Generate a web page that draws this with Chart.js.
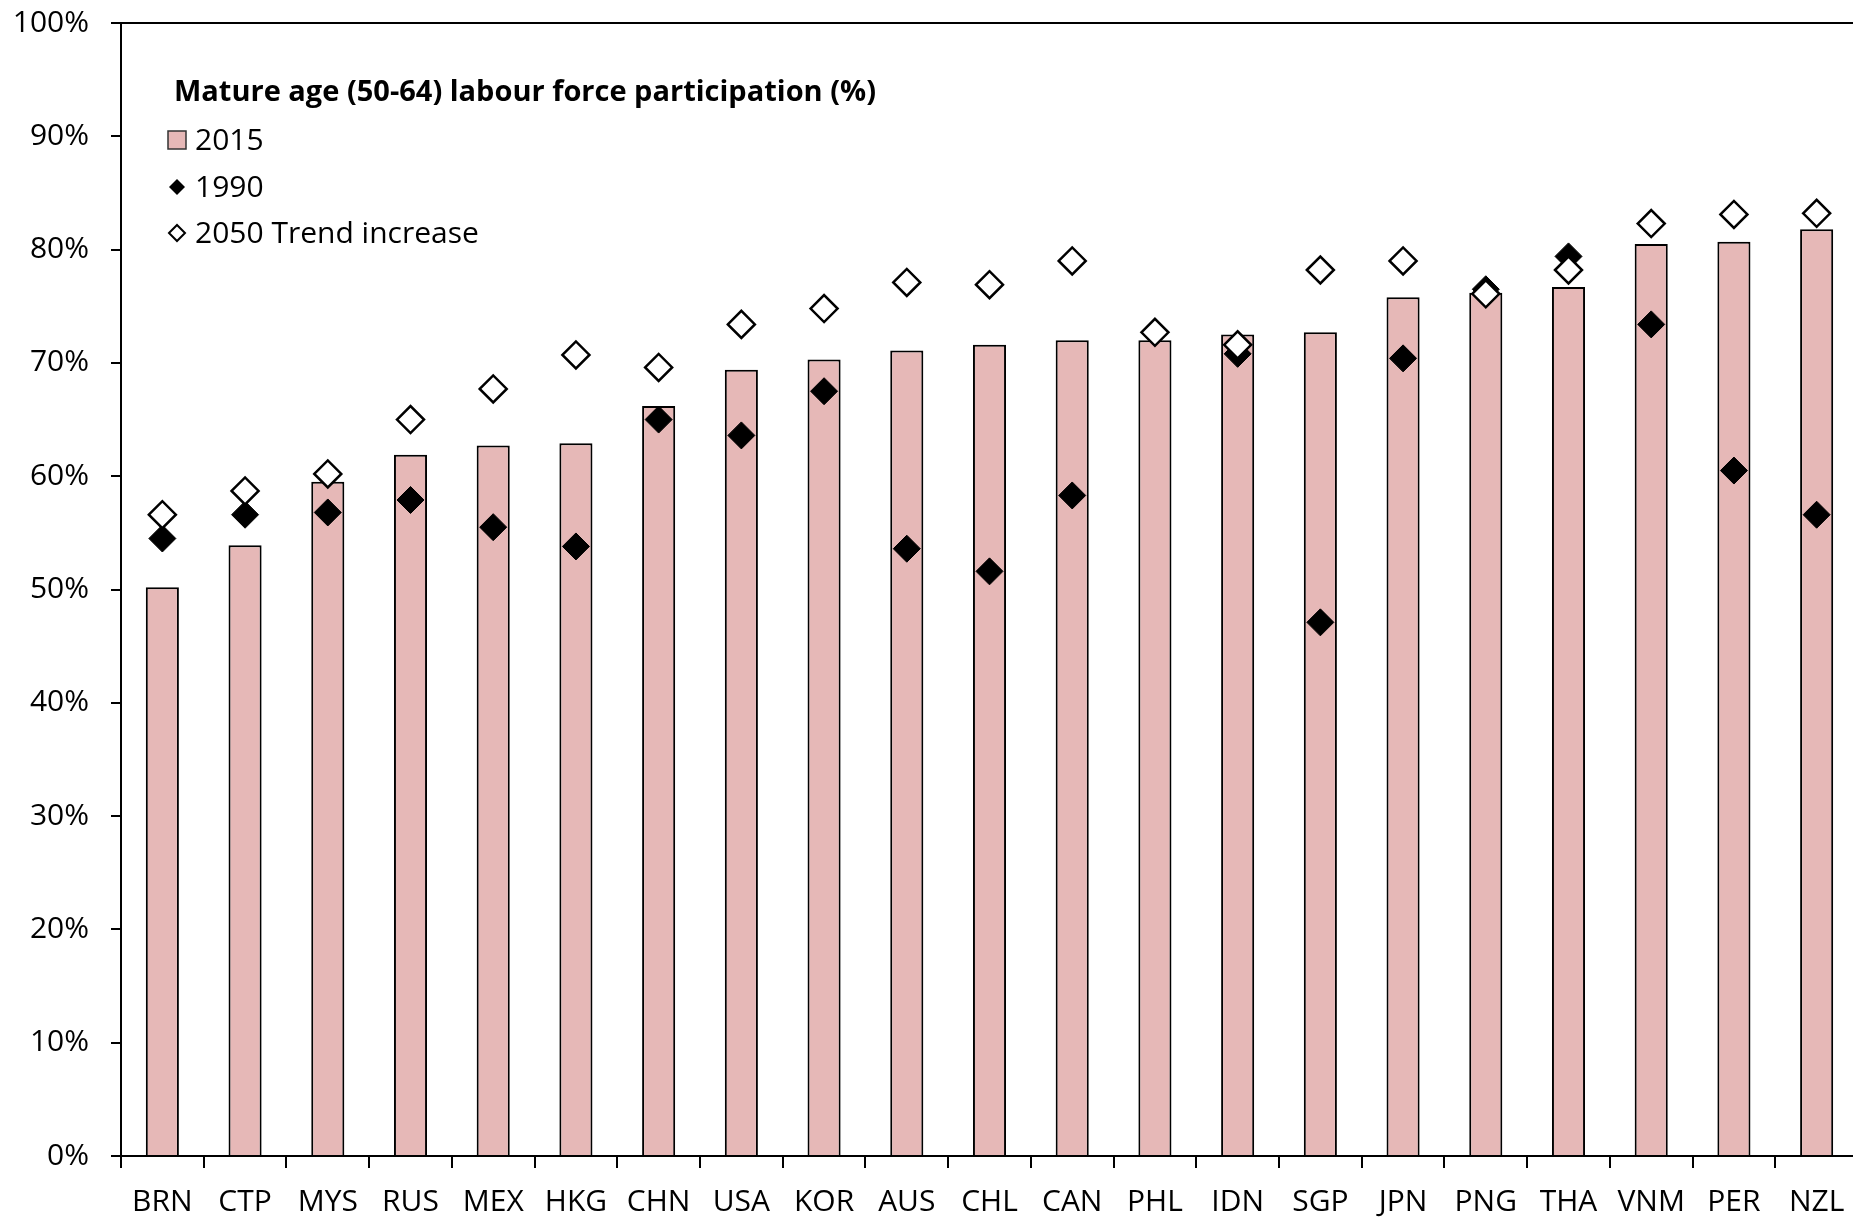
<!DOCTYPE html>
<html>
<head>
<meta charset="utf-8">
<script src="https://cdn.jsdelivr.net/npm/chart.js@4.4.0/dist/chart.umd.min.js"></script>
<style>
  html, body { margin: 0; padding: 0; background: #fff; overflow: hidden; }
  #wrap { width: 1874px; height: 1218px; }
</style>
</head>
<body>
<div id="wrap"><canvas id="chart" width="1874" height="1218"></canvas></div>
<script>
// Economies, sorted by 2015 participation
const categories = ['BRN', 'CTP', 'MYS', 'RUS', 'MEX', 'HKG', 'CHN', 'USA', 'KOR', 'AUS', 'CHL',
                    'CAN', 'PHL', 'IDN', 'SGP', 'JPN', 'PNG', 'THA', 'VNM', 'PER', 'NZL'];

// Mature age (50-64) labour force participation, %
const values2015 = [50.2, 53.9, 59.5, 61.9, 62.7, 62.9, 66.2, 69.4, 70.3, 71.1, 71.6,
                    72.0, 72.0, 72.5, 72.7, 75.8, 76.2, 76.7, 80.5, 80.7, 81.8];
const values1990 = [54.5, 56.6, 56.8, 57.9, 55.5, 53.8, 65.0, 63.6, 67.5, 53.6, 51.6,
                    58.3, null, 70.8, 47.1, 70.4, 76.5, 79.4, 73.4, 60.5, 56.6];
const trend2050 = [56.6, 58.7, 60.2, 65.0, 67.7, 70.7, 69.6, 73.4, 74.8, 77.1, 76.9,
                   79.0, 72.7, 71.6, 78.2, 79.0, 76.1, 78.2, 82.3, 83.1, 83.2];

const yTickValues = [0, 10, 20, 30, 40, 50, 60, 70, 80, 90, 100];

const legendTitle = 'Mature age (50-64) labour force participation (%)';
const seriesLabels = ['2015', '1990', '2050 Trend increase'];

const PINK = '#E6B8B7';
const FONT = "'Open Sans', 'DejaVu Sans', sans-serif";

Chart.defaults.font.family = FONT;
Chart.defaults.color = '#000';

// Legend drawn by hand in the top-left of the plot, Excel style
const boxLegend = {
    id: 'boxLegend',
    afterDraw(chart) {
        const ctx = chart.ctx;
        const left = chart.chartArea.left;
        ctx.save();
        ctx.fillStyle = '#000';
        ctx.textBaseline = 'middle';
        ctx.font = 'bold 29px ' + FONT;
        ctx.fillText(legendTitle, left + 53, 93);

        ctx.font = '30px ' + FONT;
        const mx = left + 56;
        const rows = [140, 187, 233];

        // 2015 box
        ctx.fillStyle = PINK;
        ctx.strokeStyle = '#333';
        ctx.lineWidth = 1.5;
        ctx.fillRect(mx - 9, rows[0] - 9, 18, 18);
        ctx.strokeRect(mx - 9, rows[0] - 9, 18, 18);

        // 1990 filled diamond
        ctx.fillStyle = '#000';
        ctx.beginPath();
        ctx.moveTo(mx - 8, rows[1]);
        ctx.lineTo(mx, rows[1] - 8);
        ctx.lineTo(mx + 8, rows[1]);
        ctx.lineTo(mx, rows[1] + 8);
        ctx.closePath();
        ctx.fill();

        // 2050 open diamond
        ctx.fillStyle = '#fff';
        ctx.strokeStyle = '#000';
        ctx.lineWidth = 2;
        ctx.beginPath();
        ctx.moveTo(mx - 8, rows[2]);
        ctx.lineTo(mx, rows[2] - 8);
        ctx.lineTo(mx + 8, rows[2]);
        ctx.lineTo(mx, rows[2] + 8);
        ctx.closePath();
        ctx.fill();
        ctx.stroke();

        ctx.fillStyle = '#000';
        seriesLabels.forEach((t, i) => ctx.fillText(t, mx + 18, rows[i] + 1));
        ctx.restore();
    }
};

const config = {
    data: {
        labels: categories,
        datasets: [
            {
                type: 'bar',
                label: seriesLabels[0],
                data: values2015,
                backgroundColor: PINK,
                borderColor: '#000',
                borderWidth: 2,
                barPercentage: 0.4,
                categoryPercentage: 1,
                order: 3
            },
            {
                type: 'line',
                label: seriesLabels[1],
                data: values1990,
                showLine: false,
                pointStyle: 'rectRot',
                pointRadius: 13.5,
                pointHoverRadius: 13.5,
                pointBackgroundColor: '#000',
                pointBorderColor: '#000',
                pointBorderWidth: 1,
                order: 2
            },
            {
                type: 'line',
                label: seriesLabels[2],
                data: trend2050,
                showLine: false,
                pointStyle: 'rectRot',
                pointRadius: 13.5,
                pointHoverRadius: 13.5,
                pointBackgroundColor: '#fff',
                pointBorderColor: '#000',
                pointBorderWidth: 2.5,
                order: 1
            }
        ]
    },
    options: {
        responsive: false,
        animation: false,
        layout: { padding: { top: 23, left: 0, right: 0, bottom: 0 } },
        scales: {
            x: {
                offset: true,
                afterFit: (s) => {
                    s.height = 62;
                    s.paddingLeft = 0;
                    s.paddingRight = 0;
                },
                border: { display: true, color: '#000', width: 2 },
                grid: {
                    offset: true,
                    drawOnChartArea: false,
                    drawTicks: true,
                    tickLength: 12,
                    color: '#000',
                    lineWidth: 2
                },
                ticks: {
                    font: { size: 30 },
                    color: '#000',
                    padding: 16,
                    maxRotation: 0,
                    autoSkip: false
                }
            },
            y: {
                min: 0,
                max: 100,
                afterFit: (s) => {
                    s.width = 121;
                    s.paddingTop = 0;
                    s.paddingBottom = 0;
                },
                afterBuildTicks: (s) => { s.ticks = yTickValues.map(v => ({ value: v })); },
                border: { display: true, color: '#000', width: 2 },
                grid: {
                    drawTicks: true,
                    tickLength: 10,
                    tickColor: '#000',
                    lineWidth: 2,
                    color: (c) => (c.tick && c.tick.value === 100 ? '#000' : 'rgba(0,0,0,0)')
                },
                ticks: {
                    font: { size: 30 },
                    color: '#000',
                    padding: 22,
                    callback: (v) => v + '%'
                }
            }
        },
        plugins: {
            legend: { display: false },
            tooltip: { enabled: false }
        }
    },
    plugins: [boxLegend]
};

new Chart(document.getElementById('chart').getContext('2d'), config);
</script>
</body>
</html>
